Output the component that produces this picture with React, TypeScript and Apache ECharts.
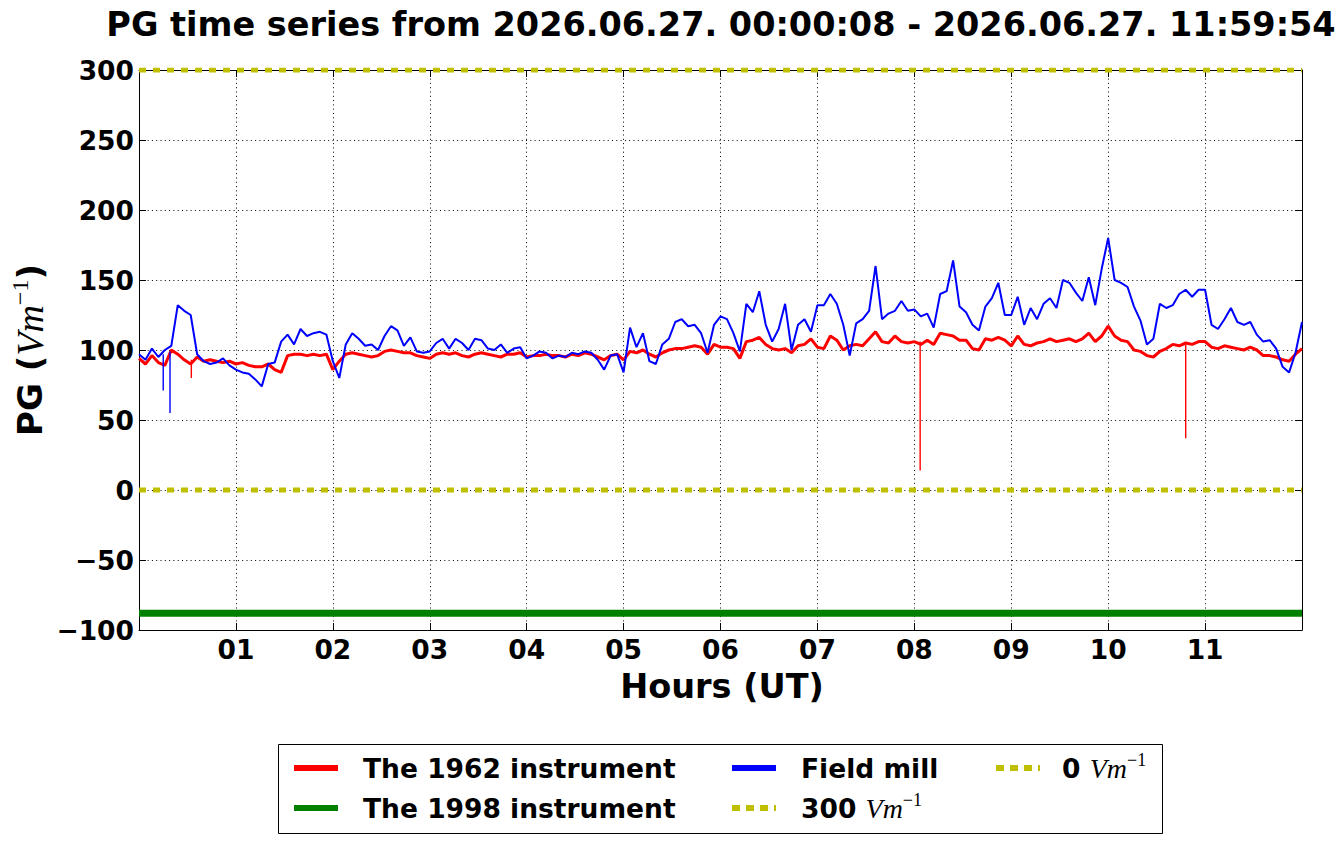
import React, { useEffect, useRef } from "react";
import * as echarts from "echarts";

// ---- data ----
const TITLE = "PG time series from 2026.06.27. 00:00:08 - 2026.06.27. 11:59:54";
const SAMPLE_STEP_MINUTES = 4; // one value every 4 minutes, 00:00 .. 12:00

// The 1962 instrument (V/m)
const instrument1962 = [
  94, 90, 96, 91, 89, 100, 97, 93, 90, 95, 92, 93, 92, 91, 92, 90, 91, 89, 88, 88, 90, 86, 84, 96, 97, 97, 96, 97, 96, 97,
  86,
  92, 97, 98, 97, 96, 95, 96, 99, 100, 99, 98, 98, 96, 95, 94, 97, 98, 97, 98, 96, 95, 97, 98, 97, 96, 95, 97, 97, 98,
  95,
  96, 96, 97, 96, 96, 95, 97, 96, 98, 97, 95, 93, 96, 97, 93, 99, 98, 100, 97, 95, 98, 100, 101, 101, 102, 103, 102, 97, 104,
  102,
  102, 101, 94, 106, 107, 109, 104, 101, 100, 101, 98, 103, 104, 108, 102, 101, 110, 107, 100, 103, 104, 103, 108, 113, 106, 105, 110, 106, 105,
  106,
  104, 107, 104, 112, 111, 110, 107, 107, 101, 100, 108, 107, 109, 107, 103, 110, 104, 103, 105, 106, 108, 106, 107, 108, 106, 108, 112, 106, 110,
  117,
  110, 107, 106, 100, 99, 96, 95, 99, 101, 104, 103, 105, 104, 106, 106, 102, 101, 103, 102, 101, 100, 102, 100, 96, 96, 95, 93, 92, 97, 101,
];
const instrument1962SpikeHours = [0.54, 8.06, 10.8];
const instrument1962SpikeBase = [93, 106, 104];
const instrument1962SpikeValues = [80, 14, 37];

// Field mill (V/m)
const fieldMill = [
  97, 93, 101, 95, 100, 103, 132, 128, 125, 97, 92, 90, 91, 94, 89, 86, 84, 83, 79, 74, 90, 91, 106, 111, 104, 115, 110, 112, 113, 111,
  92,
  80, 104, 112, 108, 103, 104, 100, 110, 117, 114, 103, 109, 99, 98, 99, 105, 108, 101, 108, 105, 100, 108, 107, 101, 100, 104, 98, 101, 102,
  94,
  96, 99, 98, 94, 96, 95, 98, 97, 99, 98, 93, 86, 96, 97, 84, 116, 102, 112, 92, 90, 104, 108, 120, 122, 117, 118, 112, 98, 118,
  124,
  122, 112, 99, 133, 127, 142, 118, 106, 115, 133, 100, 118, 122, 113, 132, 132, 140, 133, 118, 96, 119, 122, 128, 160, 122, 126, 128, 135, 128,
  129,
  124, 126, 116, 140, 142, 164, 131, 127, 118, 114, 131, 137, 148, 125, 125, 138, 118, 130, 122, 133, 137, 130, 150, 148, 141, 135, 152, 132, 158,
  180,
  150, 148, 145, 131, 121, 104, 108, 133, 130, 132, 140, 143, 138, 143, 143, 118, 115, 122, 130, 120, 118, 120, 111, 106, 107, 101, 88, 84, 98, 120,
];
const fieldMillSpikeHours = [0.25, 0.32];
const fieldMillSpikeBase = [97, 99];
const fieldMillSpikeValues = [71, 55];

// The 1998 instrument (constant trace)
const instrument1998Hours = [0, 12];
const instrument1998 = [-88, -88];

// reference levels
const levelHours = [0, 12];
const level300 = [300, 300];
const level0 = [0, 0];

const X_MIN = 0;
const X_MAX = 12;
const X_INTERVAL = 1;
const Y_MIN = -100;
const Y_MAX = 300;
const Y_INTERVAL = 50;

function buildSeries(values: number[]) {
  return values.map((v, i) => [(i * SAMPLE_STEP_MINUTES) / 60, v]);
}
function buildSpikes(spikeH: number[], spikeBase: number[], spikeV: number[]) {
  const pts: any[] = [];
  spikeH.forEach((t, j) => {
    pts.push([t, spikeBase[j]], [t, spikeV[j]], [t, "-"]);
  });
  return pts;
}

const FONT = "DejaVu Sans";
const SERIF = "Liberation Serif";
const YELLOW = "#bfbf00";

export default function App() {
  const ref = useRef<HTMLDivElement>(null);
  useEffect(() => {
    if (!ref.current) return;
    const chart = echarts.init(ref.current, undefined, { renderer: "svg" });

    const redData = buildSeries(instrument1962);
    const redSpikes = buildSpikes(instrument1962SpikeHours, instrument1962SpikeBase, instrument1962SpikeValues);
    const blueData = buildSeries(fieldMill);
    const blueSpikes = buildSpikes(fieldMillSpikeHours, fieldMillSpikeBase, fieldMillSpikeValues);
    const greenData = instrument1998Hours.map((h, i) => [h, instrument1998[i]]);
    const l300 = levelHours.map((h, i) => [h, level300[i]]);
    const l0 = levelHours.map((h, i) => [h, level0[i]]);

    const tickStyle = { show: true, inside: true, length: 7, lineStyle: { color: "#000", width: 1 } };
    const axisLine = { show: true, onZero: false, lineStyle: { color: "#000", width: 1 } };
    const labelStyle = { fontFamily: FONT, fontWeight: "bold" as const, fontSize: 26.5, color: "#000" };
    const grid = { lineStyle: { color: "#000", width: 1, type: [1, 3.3] as any } };

    const richBase = {
      b: { fontFamily: FONT, fontWeight: "bold", fontSize: 26.5, color: "#000", lineHeight: 34, verticalAlign: "middle" },
      i: { fontFamily: SERIF, fontStyle: "italic", fontSize: 28, color: "#000", lineHeight: 34, verticalAlign: "middle" },
      s: { fontFamily: SERIF, fontSize: 18, color: "#000", lineHeight: 18, verticalAlign: "top" },
    };
    const richAxis = {
      b: { fontFamily: FONT, fontWeight: "bold", fontSize: 34, color: "#000", lineHeight: 44, verticalAlign: "middle" },
      i: { fontFamily: SERIF, fontStyle: "italic", fontSize: 38, color: "#000", lineHeight: 44, verticalAlign: "middle" },
      s: { fontFamily: SERIF, fontSize: 24, color: "#000", lineHeight: 24, verticalAlign: "top" },
    };

    const row1 = 768;
    const row2 = 808;
    const legendLine = (x: number, y: number, color: string, dashed: boolean) => ({
      type: "line",
      shape: { x1: x, y1: y, x2: x + 44, y2: y },
      style: dashed
        ? { stroke: YELLOW, lineWidth: 6, lineDash: [8, 6] }
        : { stroke: color, lineWidth: 6 },
    });
    const legendText = (x: number, y: number, text: string) => ({
      type: "text",
      x,
      y,
      style: { text, rich: richBase, align: "left", verticalAlign: "middle" },
    });

    const lineSeries = (name: string, data: any[], color: string, width: number, type: any = "solid") => ({
      name,
      type: "line",
      data,
      showSymbol: false,
      symbol: "none",
      connectNulls: false,
      lineStyle: { color, width, type },
      itemStyle: { color },
    });

    chart.setOption({
      animation: false,
      backgroundColor: "#ffffff",
      grid: { left: 139, top: 70, width: 1163, height: 560, containLabel: false },
      xAxis: [
        {
          type: "value",
          min: X_MIN,
          max: X_MAX,
          interval: X_INTERVAL,
          position: "bottom",
          axisLine,
          axisTick: tickStyle,
          axisLabel: {
            ...labelStyle,
            margin: 6,
            formatter: (v: number) => (v > X_MIN && v < X_MAX ? String(v).padStart(2, "0") : ""),
          },
          splitLine: { show: true, ...grid },
        },
        {
          type: "value",
          min: X_MIN,
          max: X_MAX,
          interval: X_INTERVAL,
          position: "top",
          axisLine,
          axisTick: tickStyle,
          axisLabel: { show: false },
          splitLine: { show: false },
        },
      ],
      yAxis: [
        {
          type: "value",
          min: Y_MIN,
          max: Y_MAX,
          interval: Y_INTERVAL,
          position: "left",
          axisLine,
          axisTick: tickStyle,
          axisLabel: {
            ...labelStyle,
            margin: 5,
            formatter: (v: number) => (v < 0 ? "\u2212" + Math.abs(v) : String(v)),
          },
          splitLine: { show: true, ...grid },
        },
        {
          type: "value",
          min: Y_MIN,
          max: Y_MAX,
          interval: Y_INTERVAL,
          position: "right",
          axisLine,
          axisTick: tickStyle,
          axisLabel: { show: false },
          splitLine: { show: false },
        },
      ],
      series: [
        lineSeries("The 1962 instrument", redData, "#ff0000", 3),
        lineSeries("The 1962 instrument spikes", redSpikes, "#ff0000", 1.4),
        lineSeries("The 1998 instrument", greenData, "#008000", 7),
        lineSeries("Field mill", blueData, "#0000ff", 2),
        lineSeries("Field mill spikes", blueSpikes, "#0000ff", 1.4),
        lineSeries("300 Vm-1", l300, YELLOW, 5, [7, 7]),
        lineSeries("0 Vm-1", l0, YELLOW, 5, [7, 7]),
      ],
      graphic: [
        {
          type: "text",
          x: 721,
          y: 24,
          style: {
            text: TITLE,
            fontFamily: FONT,
            fontWeight: "bold",
            fontSize: 33.5,
            fill: "#000",
            align: "center",
            verticalAlign: "middle",
          },
        },
        {
          type: "text",
          x: 722,
          y: 686,
          style: {
            text: "Hours (UT)",
            fontFamily: FONT,
            fontWeight: "bold",
            fontSize: 33.5,
            fill: "#000",
            align: "center",
            verticalAlign: "middle",
          },
        },
        {
          type: "text",
          x: 30,
          y: 350,
          rotation: Math.PI / 2,
          style: {
            text: "{b|PG (}{i|Vm}{s|\u22121}{b|)}",
            rich: richAxis,
            align: "center",
            verticalAlign: "middle",
          },
        },
        {
          type: "rect",
          shape: { x: 278.5, y: 744.5, width: 884, height: 89 },
          style: { fill: "#fff", stroke: "#000", lineWidth: 1 },
        },
        legendLine(294, row1, "#ff0000", false),
        legendText(363, row1, "{b|The 1962 instrument}"),
        legendLine(294, row2, "#008000", false),
        legendText(363, row2, "{b|The 1998 instrument}"),
        legendLine(732, row1, "#0000ff", false),
        legendText(801, row1, "{b|Field mill}"),
        legendLine(732, row2, YELLOW, true),
        legendText(801, row2, "{b|300 }{i|Vm}{s|\u22121}"),
        legendLine(996, row1, YELLOW, true),
        legendText(1062, row1, "{b|0 }{i|Vm}{s|\u22121}"),
      ],
    });
    return () => chart.dispose();
  }, []);
  return (
    <div
      ref={ref}
      style={{ position: "fixed", left: 0, top: 0, width: 1342, height: 844, background: "#fff" }}
    />
  );
}
